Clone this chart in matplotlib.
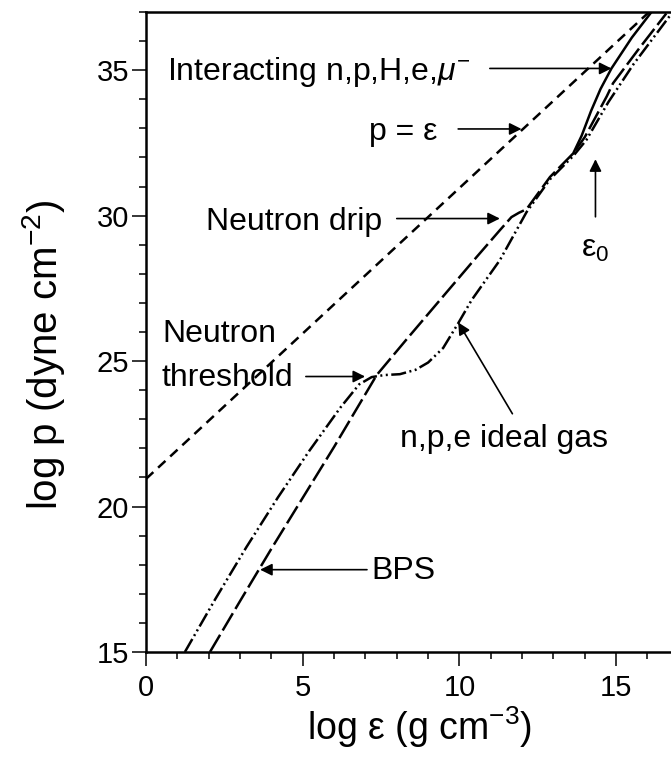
import matplotlib
matplotlib.use("Agg")
import matplotlib.pyplot as plt
from matplotlib.ticker import MultipleLocator

plt.rcParams['font.family'] = ['Liberation Sans', 'DejaVu Sans']
plt.rcParams['mathtext.fontset'] = 'custom'
plt.rcParams['mathtext.rm'] = 'Liberation Sans'
plt.rcParams['mathtext.it'] = 'Liberation Sans:italic'

# equations of state: log energy density vs log pressure
bps_x = [2.04, 3.0, 4.0, 5.0, 6.0, 7.36, 8.3, 9.38, 10.55, 11.29, 11.66, 11.9, 12.14,
         12.89, 13.63, 14.0, 14.7, 14.9, 15.7, 16.6]
bps_y = [15.0, 16.75, 18.55, 20.3, 22.05, 24.52, 25.73, 27.1, 28.58, 29.5, 29.95, 30.1, 30.22,
         31.33, 32.14, 32.7, 34.1, 34.55, 35.7, 36.95]

gas_x = [1.24, 2.2, 3.2, 4.2, 5.2, 6.2, 6.8, 7.2, 7.6, 8.1, 8.6, 9.0, 9.48, 9.96, 10.39,
         11.29, 12.14, 12.89, 13.63, 14.05, 14.75, 15.55, 16.7]
gas_y = [15.0, 16.8, 18.6, 20.3, 21.9, 23.4, 24.2, 24.45, 24.52, 24.55, 24.7, 24.95, 25.45,
         26.3, 27.1, 28.47, 30.12, 31.25, 32.05, 32.6, 33.9, 35.2, 36.85]

int_x = [13.63, 13.9, 14.2, 14.5, 14.85, 15.5, 16.17]
int_y = [32.14, 32.75, 33.6, 34.35, 35.06, 36.12, 37.06]

# causal limit p = eps c^2
lim_x = [0.0, 16.1]
lim_y = [20.95, 37.05]

fig = plt.figure(figsize=(6.71, 7.6), dpi=100)
ax = fig.add_axes([0.2176, 0.1421, 0.7824, 0.8421])

ax.plot(lim_x, lim_y, color='black', lw=1.8, linestyle=(0, (4, 2.6)))
ax.plot(bps_x, bps_y, color='black', lw=1.8, linestyle=(0, (8, 2)))
ax.plot(gas_x, gas_y, color='black', lw=1.8, linestyle=(0, (6, 1.4, 0.8, 1.4, 0.8, 1.4)))
ax.plot(int_x, int_y, color='black', lw=1.8)

arrow = dict(arrowstyle='-|>', color='black', lw=1.2, mutation_scale=18, shrinkA=0, shrinkB=0)
fs = 23

ax.annotate('', xy=(14.85, 35.06), xytext=(10.97, 35.06), arrowprops=arrow)
ax.text(0.67, 34.93, 'Interacting n,p,H,e,$\\mu^{-}$', fontsize=fs, va='center', ha='left')

ax.annotate('', xy=(11.98, 32.98), xytext=(9.96, 32.98), arrowprops=arrow)
ax.text(7.1, 32.87, 'p = ε', fontsize=fs, va='center', ha='left')

ax.annotate('', xy=(11.29, 29.9), xytext=(8.0, 29.9), arrowprops=arrow)
ax.text(1.91, 29.78, 'Neutron drip', fontsize=fs, va='center', ha='left')

ax.annotate('', xy=(14.34, 31.94), xytext=(14.34, 29.96), arrowprops=arrow)
ax.text(14.32, 28.85, 'ε$_\\mathrm{0}$', fontsize=fs, va='center', ha='center')

ax.annotate('', xy=(6.99, 24.47), xytext=(5.1, 24.47), arrowprops=arrow)
ax.text(0.51, 25.93, 'Neutron', fontsize=fs, va='center', ha='left')
ax.text(0.51, 24.41, 'threshold', fontsize=fs, va='center', ha='left')

ax.annotate('', xy=(9.96, 26.33), xytext=(11.69, 23.19), arrowprops=arrow)
ax.text(8.1, 22.32, 'n,p,e ideal gas', fontsize=fs, va='center', ha='left')

ax.annotate('', xy=(3.64, 17.83), xytext=(7.05, 17.83), arrowprops=arrow)
ax.text(7.2, 17.78, 'BPS', fontsize=fs, va='center', ha='left')

ax.set_xlim(0, 16.75)
ax.set_ylim(15, 37.0)
ax.xaxis.set_major_locator(MultipleLocator(5))
ax.xaxis.set_minor_locator(MultipleLocator(1))
ax.yaxis.set_major_locator(MultipleLocator(5))
ax.yaxis.set_minor_locator(MultipleLocator(1))
ax.tick_params(which='major', direction='out', length=10, width=1.1, labelsize=21)
ax.tick_params(which='minor', direction='out', length=5, width=1.1)
ax.tick_params(axis='x', pad=6)
ax.tick_params(axis='y', pad=2)
for s in ['left', 'bottom', 'top']:
    ax.spines[s].set_linewidth(1.8)
ax.spines['right'].set_visible(False)

ax.set_xlabel('log ε (g cm$^{-3}$)', fontsize=27)
ax.set_ylabel('log p (dyne cm$^{-2}$)', fontsize=29)
ax.xaxis.set_label_coords(0.52, -0.082)
ax.yaxis.set_label_coords(-0.15, 0.464)

fig.savefig('out.png', dpi=100)
